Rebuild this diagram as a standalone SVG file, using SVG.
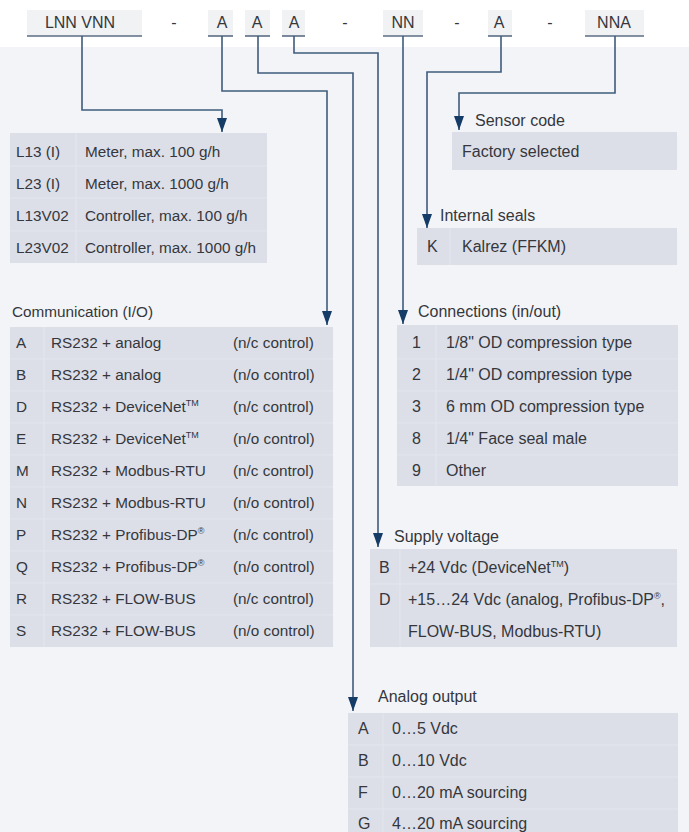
<svg xmlns="http://www.w3.org/2000/svg" width="689" height="832" viewBox="0 0 689 832">
<defs>
<marker id="ah" markerUnits="userSpaceOnUse" markerWidth="15" markerHeight="11" refX="14" refY="5" orient="auto">
<path d="M0,0 L14,5 L0,10 z" fill="#153c66"/>
</marker>
<style>
text{font-family:"Liberation Sans",Arial,sans-serif;fill:#35373c}
.h{font-size:16px}
.l{font-size:15.3px}
.r{font-size:16px}
.tb{fill:#dcdfe8}
.sep{stroke:#e4e6ed;stroke-width:1}
.hb{fill:#f1f2f4}
.ul{stroke:#5a6d83;stroke-width:1.6}
.cn{fill:none;stroke:#3f5c7d;stroke-width:1.6}
.sup{font-size:9px}
</style>
</defs>
<rect x="0" y="0" width="689" height="832" fill="#ffffff"/>
<rect x="0" y="47" width="689" height="785" fill="#f3f4f7"/>

<g id="header">
<rect class="hb" x="27" y="10" width="115" height="26"/>
<rect class="hb" x="208" y="10" width="25" height="26"/>
<rect class="hb" x="245" y="10" width="25" height="26"/>
<rect class="hb" x="282" y="10" width="23" height="26"/>
<rect class="hb" x="383" y="10" width="40" height="26"/>
<rect class="hb" x="488" y="10" width="24" height="26"/>
<rect class="hb" x="585" y="10" width="59" height="26"/>
<line class="ul" x1="27" y1="36" x2="142" y2="36"/>
<line class="ul" x1="208" y1="36" x2="233" y2="36"/>
<line class="ul" x1="245" y1="36" x2="270" y2="36"/>
<line class="ul" x1="282" y1="36" x2="305" y2="36"/>
<line class="ul" x1="383" y1="36" x2="423" y2="36"/>
<line class="ul" x1="488" y1="36" x2="512" y2="36"/>
<line class="ul" x1="585" y1="36" x2="644" y2="36"/>
<g text-anchor="middle">
<text class="h" x="80" y="28">LNN VNN</text>
<text class="h" x="174" y="28">-</text>
<text class="h" x="222" y="28">A</text>
<text class="h" x="257" y="28">A</text>
<text class="h" x="294" y="28">A</text>
<text class="h" x="345" y="28">-</text>
<text class="h" x="403" y="28">NN</text>
<text class="h" x="457" y="28">-</text>
<text class="h" x="499" y="28">A</text>
<text class="h" x="550" y="28">-</text>
<text class="h" x="614" y="28">NNA</text>
</g>
</g>

<g id="connectors">
<path class="cn" d="M82,36 V110 H222 V132" marker-end="url(#ah)"/>
<path class="cn" d="M222,36 V91 H327 V325" marker-end="url(#ah)"/>
<path class="cn" d="M258,36 V73 H353 V711" marker-end="url(#ah)"/>
<path class="cn" d="M294,36 V53 H378 V547" marker-end="url(#ah)"/>
<path class="cn" d="M403,36 V324" marker-end="url(#ah)"/>
<path class="cn" d="M501,36 V72 H427 V228" marker-end="url(#ah)"/>
<path class="cn" d="M615,36 V93 H459 V130" marker-end="url(#ah)"/>
</g>

<g id="model">
<rect class="tb" x="10" y="133" width="257" height="130"/>
<line class="sep" x1="10" y1="166" x2="267" y2="166"/>
<line class="sep" x1="10" y1="198" x2="267" y2="198"/>
<line class="sep" x1="10" y1="231" x2="267" y2="231"/>
<line class="sep" x1="76" y1="133" x2="76" y2="263"/>
<text class="l" x="16" y="157">L13 (I)</text><text class="l" x="85" y="157">Meter, max. 100 g/h</text>
<text class="l" x="16" y="189">L23 (I)</text><text class="l" x="85" y="189">Meter, max. 1000 g/h</text>
<text class="l" x="16" y="221">L13V02</text><text class="l" x="85" y="221">Controller, max. 100 g/h</text>
<text class="l" x="16" y="253">L23V02</text><text class="l" x="85" y="253">Controller, max. 1000 g/h</text>
</g>

<g id="communication">
<text class="l" x="12" y="317">Communication (I/O)</text>
<rect class="tb" x="10" y="327" width="323" height="320"/>
<line class="sep" x1="10" y1="359" x2="333" y2="359"/>
<line class="sep" x1="10" y1="391" x2="333" y2="391"/>
<line class="sep" x1="10" y1="423" x2="333" y2="423"/>
<line class="sep" x1="10" y1="455" x2="333" y2="455"/>
<line class="sep" x1="10" y1="487" x2="333" y2="487"/>
<line class="sep" x1="10" y1="519" x2="333" y2="519"/>
<line class="sep" x1="10" y1="551" x2="333" y2="551"/>
<line class="sep" x1="10" y1="583" x2="333" y2="583"/>
<line class="sep" x1="10" y1="615" x2="333" y2="615"/>
<line class="sep" x1="44" y1="327" x2="44" y2="647"/>
<text class="l" x="16" y="348">A</text><text class="l" x="51" y="348">RS232 + analog</text><text class="l" x="233" y="348">(n/c control)</text>
<text class="l" x="16" y="380">B</text><text class="l" x="51" y="380">RS232 + analog</text><text class="l" x="233" y="380">(n/o control)</text>
<text class="l" x="16" y="412">D</text><text class="l" x="51" y="412">RS232 + DeviceNet<tspan class="sup" dy="-6">TM</tspan></text><text class="l" x="233" y="412">(n/c control)</text>
<text class="l" x="16" y="444">E</text><text class="l" x="51" y="444">RS232 + DeviceNet<tspan class="sup" dy="-6">TM</tspan></text><text class="l" x="233" y="444">(n/o control)</text>
<text class="l" x="16" y="476">M</text><text class="l" x="51" y="476">RS232 + Modbus-RTU</text><text class="l" x="233" y="476">(n/c control)</text>
<text class="l" x="16" y="508">N</text><text class="l" x="51" y="508">RS232 + Modbus-RTU</text><text class="l" x="233" y="508">(n/o control)</text>
<text class="l" x="16" y="540">P</text><text class="l" x="51" y="540">RS232 + Profibus-DP<tspan class="sup" dy="-6">®</tspan></text><text class="l" x="233" y="540">(n/c control)</text>
<text class="l" x="16" y="572">Q</text><text class="l" x="51" y="572">RS232 + Profibus-DP<tspan class="sup" dy="-6">®</tspan></text><text class="l" x="233" y="572">(n/o control)</text>
<text class="l" x="16" y="604">R</text><text class="l" x="51" y="604">RS232 + FLOW-BUS</text><text class="l" x="233" y="604">(n/c control)</text>
<text class="l" x="16" y="636">S</text><text class="l" x="51" y="636">RS232 + FLOW-BUS</text><text class="l" x="233" y="636">(n/o control)</text>
</g>

<g id="sensor-code">
<text class="r" x="475" y="126">Sensor code</text>
<rect class="tb" x="452" y="132" width="225" height="38"/>
<text class="r" x="462" y="157">Factory selected</text>
</g>

<g id="internal-seals">
<text class="r" x="440" y="221">Internal seals</text>
<rect class="tb" x="417" y="228" width="260" height="37"/>
<line class="sep" x1="450" y1="228" x2="450" y2="265"/>
<text class="r" x="427" y="252">K</text><text class="r" x="462" y="252">Kalrez (FFKM)</text>
</g>

<g id="connections">
<text class="r" x="418" y="317">Connections (in/out)</text>
<rect class="tb" x="397" y="325" width="281" height="161"/>
<line class="sep" x1="397" y1="359" x2="678" y2="359"/>
<line class="sep" x1="397" y1="391" x2="678" y2="391"/>
<line class="sep" x1="397" y1="423" x2="678" y2="423"/>
<line class="sep" x1="397" y1="455" x2="678" y2="455"/>
<line class="sep" x1="436" y1="325" x2="436" y2="486"/>
<text class="r" x="412" y="348">1</text><text class="r" x="446" y="348">1/8" OD compression type</text>
<text class="r" x="412" y="380">2</text><text class="r" x="446" y="380">1/4" OD compression type</text>
<text class="r" x="412" y="412">3</text><text class="r" x="446" y="412">6 mm OD compression type</text>
<text class="r" x="412" y="444">8</text><text class="r" x="446" y="444">1/4" Face seal male</text>
<text class="r" x="412" y="476">9</text><text class="r" x="446" y="476">Other</text>
</g>

<g id="supply-voltage">
<text class="r" x="394" y="542">Supply voltage</text>
<rect class="tb" x="370" y="549" width="307" height="98"/>
<line class="sep" x1="370" y1="584" x2="677" y2="584"/>
<line class="sep" x1="400" y1="549" x2="400" y2="647"/>
<text class="r" x="379" y="573">B</text><text class="r" x="408" y="573">+24 Vdc (DeviceNet<tspan class="sup" dy="-6">TM</tspan><tspan dy="6">)</tspan></text>
<text class="r" x="379" y="605">D</text><text class="r" x="408" y="605">+15…24 Vdc (analog, Profibus-DP<tspan class="sup" dy="-6">®</tspan><tspan dy="6">,</tspan></text>
<text class="r" x="408" y="637">FLOW-BUS, Modbus-RTU)</text>
</g>

<g id="analog-output">
<text class="r" x="378" y="702">Analog output</text>
<rect class="tb" x="348" y="713" width="330" height="119"/>
<line class="sep" x1="348" y1="745" x2="678" y2="745"/>
<line class="sep" x1="348" y1="777" x2="678" y2="777"/>
<line class="sep" x1="348" y1="809" x2="678" y2="809"/>
<line class="sep" x1="383" y1="713" x2="383" y2="832"/>
<text class="r" x="358" y="734">A</text><text class="r" x="392" y="734">0…5 Vdc</text>
<text class="r" x="358" y="766">B</text><text class="r" x="392" y="766">0…10 Vdc</text>
<text class="r" x="358" y="798">F</text><text class="r" x="392" y="798">0…20 mA sourcing</text>
<text class="r" x="358" y="829">G</text><text class="r" x="392" y="829">4…20 mA sourcing</text>
</g>
</svg>
